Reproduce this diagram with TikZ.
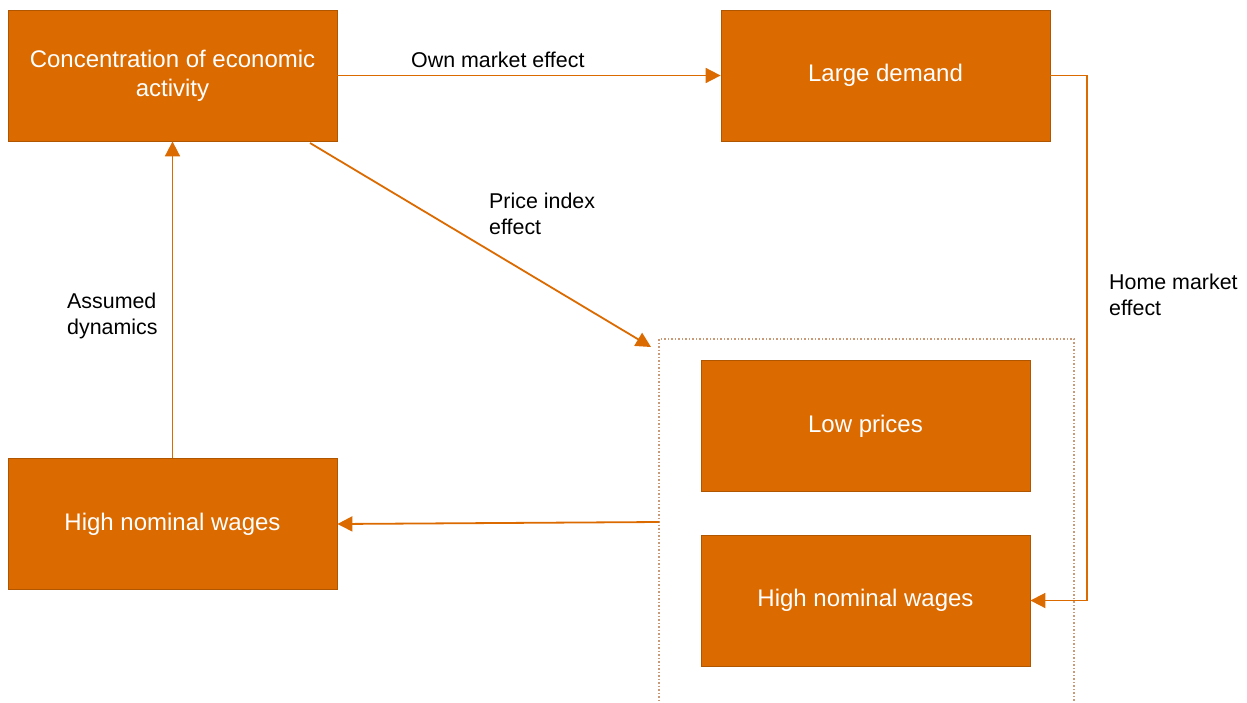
\documentclass[tikz,border=0pt]{standalone}
\usepackage{fontspec}
\setmainfont{Liberation Sans}
\usetikzlibrary{arrows.meta}
\definecolor{boxorange}{HTML}{DB6A00}
\definecolor{boxedge}{HTML}{B05600}
\definecolor{dotedge}{HTML}{C99A78}
\begin{document}
\begin{tikzpicture}[x=1pt,y=-1pt,
	block/.style={draw=boxedge,fill=boxorange,text=white,line width=.8pt,
		minimum width=329pt,minimum height=131pt,inner sep=0pt,align=center,
		font=\fontsize{24}{29}\selectfont},
	link/.style={draw=boxorange,line width=1.8pt,-{Triangle[length=15pt,width=15pt]}},
	lab/.style={align=left,font=\fontsize{21.4}{26}\selectfont,inner sep=0pt}]
	\useasboundingbox(0,0)rectangle(1247,702);
	\clip(0,0)rectangle(1247,702);
	% blocks
	\node[block](conc)at(172.5,75.5){Concentration of economic\\activity};
	\node[block](demand)at(885.5,75.5){Large demand};
	\node[block](prices)at(865.5,426){Low prices};
	\node[block](wagesR)at(865.5,600.5){High nominal wages};
	\node[block](wagesL)at(172.5,524){High nominal wages};
	% dotted frame round the right pair
	\draw[dotedge,line width=1.5pt,dotted](659,339)rectangle(1074,720);
	\coordinate(frameW)at(659,522);
	\coordinate(frameNW)at(651,347);
	\coordinate(start)at(310,143);
	\coordinate(turnA)at(1087,75.5);
	\coordinate(turnB)at(1087,600.5);
	% links
	\draw[link](conc.east)--(demand.west);
	\draw[link](start)--(frameNW);
	\draw[link](demand.east)--(turnA)--(turnB)--(wagesR.east);
	\draw[link](frameW)--(wagesL.east);
	\draw[link](wagesL.north)--(conc.south);
	% labels
	\node[lab,anchor=base west]at(411,67){Own market effect};
	\node[lab,anchor=north west]at(489,193){Price index\\effect};
	\node[lab,anchor=north west]at(1109,274){Home market\\effect};
	\node[lab,anchor=north west]at(67,293){Assumed\\dynamics};
\end{tikzpicture}
\end{document}
